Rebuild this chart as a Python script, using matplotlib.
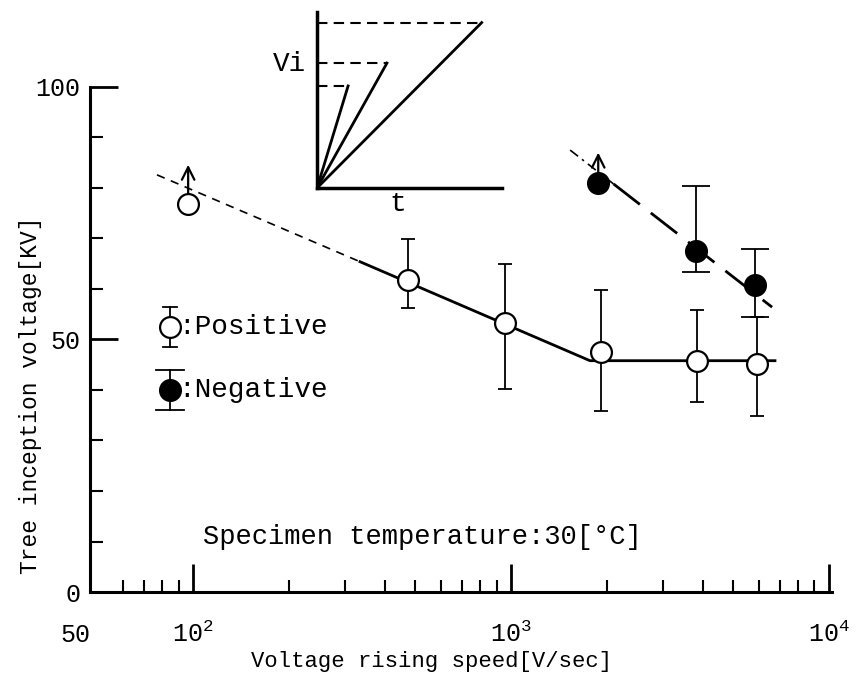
import numpy as np
import matplotlib
matplotlib.use("Agg")
import matplotlib.pyplot as plt

plt.rcParams['font.family'] = ['Liberation Mono', 'DejaVu Sans Mono']
plt.rcParams['mathtext.fontset'] = 'custom'
plt.rcParams['mathtext.rm'] = 'Liberation Mono'
plt.rcParams['mathtext.it'] = 'Liberation Mono'

# ---- measured data ----
# positive polarity (first point is a lower bound, no error bar)
pos_x = [96.5, 474, 958, 1920, 3850, 5940]
pos_y = [76.8, 61.8, 53.3, 47.5, 45.7, 45.1]
pos_hi = [69.8, 65.0, 59.8, 55.8, 54.5]
pos_lo = [56.2, 40.1, 35.9, 37.7, 34.9]
pos_arrow_tip = 84.6

# negative polarity
neg_x = [1880, 3820, 5850]
neg_y = [81.0, 67.5, 60.8]
neg_hi = [80.4, 67.9]
neg_lo = [63.3, 54.5]
neg_arrow_tip = 87.0

# trend lines
pos_fit_x = [77, 335, 1771, 6760]
pos_fit_y = [82.6, 65.4, 45.8, 45.8]
neg_fit_x = [1534, 2100, 6620]
neg_fit_y = [87.5, 80.8, 56.4]

# inset: ramp end points (time, voltage) in relative units
ramp_t = [0.89, 0.378, 0.168]
ramp_v = [0.94, 0.71, 0.58]

fig = plt.figure(figsize=(8.61, 6.8), dpi=100)
ax = fig.add_axes([0.1045, 0.1294, 0.8618, 0.7427])

# trend lines under the markers
ax.plot(pos_fit_x[:2], pos_fit_y[:2], color='black', lw=1.2, dashes=(5, 4), zorder=1)
ax.plot(pos_fit_x[1:], pos_fit_y[1:], color='black', lw=2.0, zorder=1)
ax.plot(neg_fit_x[:2], neg_fit_y[:2], color='black', lw=1.2, dashes=(6, 3, 1.5, 3), zorder=1)
ax.plot(neg_fit_x[1:], neg_fit_y[1:], color='black', lw=2.0, dashes=(12, 5), zorder=1)

# error bars
py = np.array(pos_y[1:])
ax.errorbar(pos_x[1:], py, yerr=[py - np.array(pos_lo), np.array(pos_hi) - py],
            fmt='none', ecolor='black', elinewidth=1.3, capsize=5, capthick=1.3, zorder=2)
ny = np.array(neg_y[1:])
ax.errorbar(neg_x[1:], ny, yerr=[ny - np.array(neg_lo), np.array(neg_hi) - ny],
            fmt='none', ecolor='black', elinewidth=1.3, capsize=10, capthick=1.3, zorder=2)

# markers
ax.plot(pos_x, pos_y, 'o', ms=15, mfc='white', mec='black', mew=1.6, zorder=3)
ax.plot(neg_x, neg_y, 'o', ms=15, mfc='black', mec='black', mew=1.6, zorder=3)

# lower-bound arrows
for x0, y0, tip in [(pos_x[0], pos_y[0], pos_arrow_tip), (neg_x[0], neg_y[0], neg_arrow_tip)]:
    ax.annotate('', xy=(x0, tip), xytext=(x0, y0),
                arrowprops=dict(arrowstyle='->,head_length=0.9,head_width=0.45',
                                lw=1.6, color='black', shrinkA=7.5, shrinkB=0), zorder=4)

# axes styling
ax.set_xscale('log')
ax.set_xlim(47.4, 10215)
ax.set_ylim(0, 100)
for s in ['top', 'right']:
    ax.spines[s].set_visible(False)
for s in ['left', 'bottom']:
    ax.spines[s].set_linewidth(2.2)

ax.set_xticks([100, 1000, 10000], labels=['$10^{2}$', '$10^{3}$', '$10^{4}$'])
minor_x = [m * 10 ** e for e in (1, 2, 3) for m in range(2, 10) if 55 < m * 10 ** e < 10000]
ax.set_xticks(minor_x, minor=True)
ax.set_xticklabels([], minor=True)
ax.set_yticks([0, 50, 100])
ax.set_yticks([10, 20, 30, 40, 60, 70, 80, 90], minor=True)

ax.tick_params(which='major', direction='in', length=20, width=2, labelsize=18)
ax.tick_params(which='minor', direction='in', length=9, width=1.5)
ax.tick_params(axis='y', pad=7)
ax.tick_params(axis='x', pad=36)
for t in ax.xaxis.get_major_ticks():
    t.label1.set_verticalalignment('baseline')
ax.annotate('50', xy=(50, 0), xycoords=('data', 'axes fraction'),
            xytext=(-16, -36), textcoords='offset points',
            ha='center', va='baseline', fontsize=18)

ax.set_xlabel('Voltage rising speed[V/sec]', fontsize=16)
ax.xaxis.set_label_coords(0.461, -0.117)
ax.set_ylabel('Tree inception voltage[KV]', fontsize=16.5)
ax.yaxis.set_label_coords(-0.064, 0.39)

ax.text(0.152, 0.109, 'Specimen temperature:30[°C]', transform=ax.transAxes,
        fontsize=19.5, va='center')

# hand-made legend
def legend_entry(yc, face, cap_w, label):
    xc = 0.108
    dy = 0.04
    ax.plot([xc, xc], [yc - dy, yc + dy], color='black', lw=1.3,
            transform=ax.transAxes, zorder=2, clip_on=False)
    for yy in (yc - dy, yc + dy):
        ax.plot([xc - cap_w, xc + cap_w], [yy, yy], color='black', lw=1.3,
                transform=ax.transAxes, zorder=2, clip_on=False)
    ax.plot([xc], [yc], 'o', ms=15, mfc=face, mec='black', mew=1.6,
            transform=ax.transAxes, zorder=3, clip_on=False)
    ax.text(xc + 0.011, yc, label, transform=ax.transAxes, fontsize=20, va='center')

legend_entry(0.525, 'white', 0.0095, ':Positive')
legend_entry(0.40, 'black', 0.019, ':Negative')

# inset sketch of the ramp voltages
ins = fig.add_axes([0.3682, 0.7235, 0.2149, 0.2588])
ins.set_facecolor('none')
ins.set_xlim(0, 1)
ins.set_ylim(0, 1)
for s in ['top', 'right']:
    ins.spines[s].set_visible(False)
for s in ['left', 'bottom']:
    ins.spines[s].set_linewidth(2.5)
ins.set_xticks([])
ins.set_yticks([])
for t, v in zip(ramp_t, ramp_v):
    ins.plot([0, t], [0, v], color='black', lw=2)
    ins.plot([0, t], [v, v], color='black', lw=1.5, dashes=(5, 3))
ins.text(-0.06, 0.705, 'Vi', ha='right', va='center', fontsize=20, transform=ins.transAxes)
ins.text(0.438, -0.09, 't', ha='center', va='center', fontsize=20, transform=ins.transAxes)

fig.savefig('out.png', dpi=100)
